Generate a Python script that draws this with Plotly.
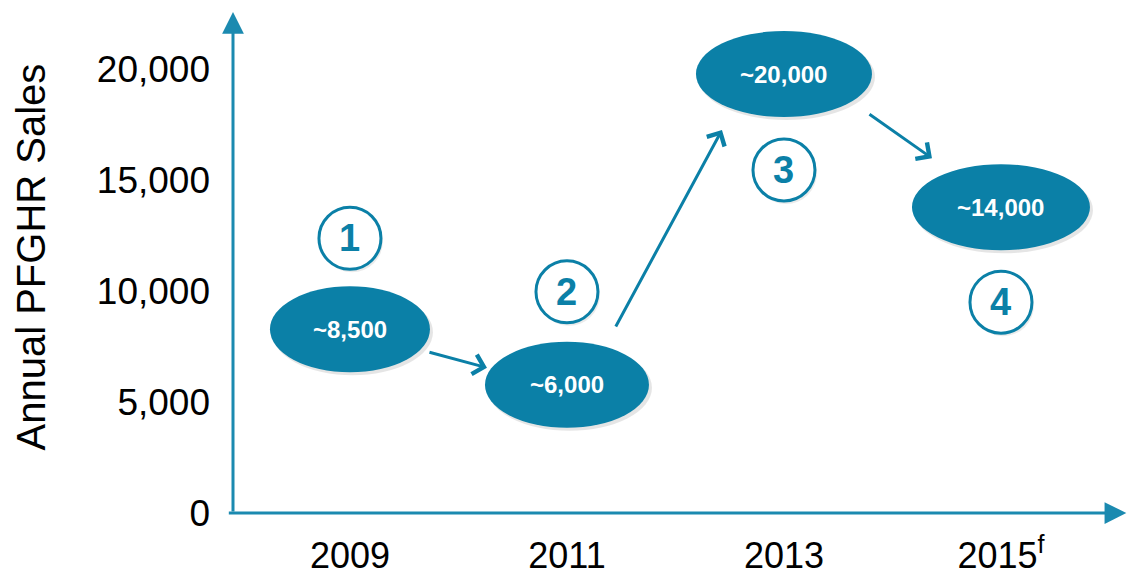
import plotly.graph_objects as go

# ---- data ----
years = ["2009", "2011", "2013", "2015<sup>f</sup>"]
sales = [8500, 6000, 20000, 14000]
bubble_text = ["~8,500", "~6,000", "~20,000", "~14,000"]
step_labels = ["1", "2", "3", "4"]
y_ticks = [0, 5000, 10000, 15000, 20000]

# ---- style ----
TEAL = "#0B80A7"
LINE = "#1B8AB0"
FONT = "Liberation Sans, Arial, sans-serif"
ell_w = [160, 164, 176, 178]
ell_h = 86
step_dy = [86, 88, -101, -100]        # pixel offset of numbered circle from bubble
circle_r = 31
arrow_specs = [  # (target index, xshift, yshift, ax, ay)
    (1, -80, 12, -59, -16),
    (2, -62, -61, -107, 198),
    (3, -69, 44, -64, -45),
]

xs = list(range(len(years)))
fig = go.Figure()
fig.add_trace(go.Scatter(x=xs, y=sales, mode="markers",
                         marker=dict(size=1, opacity=0), hoverinfo="skip",
                         showlegend=False))

shapes = []
annotations = []
for i, v in enumerate(sales):
    w = ell_w[i]
    # shadow
    shapes.append(dict(type="circle", xref="x", yref="y", layer="below",
                       xsizemode="pixel", ysizemode="pixel", xanchor=i, yanchor=v,
                       x0=-w / 2 + 2, x1=w / 2 + 3, y0=-ell_h / 2 - 8, y1=ell_h / 2 - 8,
                       fillcolor="rgba(0,0,0,0.10)", line=dict(width=0)))
    shapes.append(dict(type="circle", xref="x", yref="y", layer="below",
                       xsizemode="pixel", ysizemode="pixel", xanchor=i, yanchor=v,
                       x0=-w / 2, x1=w / 2, y0=-ell_h / 2 - 5, y1=ell_h / 2 - 5,
                       fillcolor=TEAL, line=dict(width=0)))
    annotations.append(dict(x=i, y=v, xref="x", yref="y", text="<b>%s</b>" % bubble_text[i],
                            showarrow=False, yshift=-5,
                            font=dict(family=FONT, size=24, color="white")))
    dy = step_dy[i]
    shapes.append(dict(type="circle", xref="x", yref="y", layer="below",
                       xsizemode="pixel", ysizemode="pixel", xanchor=i, yanchor=v,
                       x0=-circle_r + 2, x1=circle_r + 2, y0=dy - circle_r - 3, y1=dy + circle_r - 3,
                       fillcolor="rgba(0,0,0,0.08)", line=dict(width=0)))
    shapes.append(dict(type="circle", xref="x", yref="y", layer="below",
                       xsizemode="pixel", ysizemode="pixel", xanchor=i, yanchor=v,
                       x0=-circle_r, x1=circle_r, y0=dy - circle_r, y1=dy + circle_r,
                       fillcolor="white", line=dict(color=TEAL, width=3)))
    annotations.append(dict(x=i, y=v, xref="x", yref="y", text="<b>%s</b>" % step_labels[i],
                            showarrow=False, yshift=dy,
                            font=dict(family=FONT, size=38, color=TEAL)))

for (t, xsh, ysh, ax, ay) in arrow_specs:
    annotations.append(dict(x=t, y=sales[t], xref="x", yref="y", text="",
                            showarrow=True, xshift=xsh, yshift=ysh, ax=ax, ay=ay,
                            arrowhead=4, arrowsize=1.3, arrowwidth=3, arrowcolor=TEAL))

# axis arrows
annotations.append(dict(x=0, y=1, xref="paper", yref="paper", text="", showarrow=True,
                        ax=0, ay=501, arrowhead=2, arrowsize=1.45, arrowwidth=3, arrowcolor=LINE))
annotations.append(dict(x=0.997, y=0, xref="paper", yref="paper", text="", showarrow=True,
                        ax=-899, ay=0, arrowhead=2, arrowsize=1.45, arrowwidth=3, arrowcolor=LINE))

# y title
annotations.append(dict(x=0, y=0.5, xref="paper", yref="paper", text="Annual PFGHR Sales",
                        showarrow=False, textangle=-90, xanchor="center", yanchor="middle",
                        xshift=-203, yshift=5,
                        font=dict(family=FONT, size=40, color="black")))

fig.update_layout(
    width=1129, height=576,
    margin=dict(l=233, r=0, t=12, b=63),
    paper_bgcolor="white", plot_bgcolor="white",
    showlegend=False,
    shapes=shapes, annotations=annotations,
    xaxis=dict(range=[-0.539, 3.59], tickvals=xs, ticktext=years, showgrid=False,
               zeroline=False, showline=False, ticks="", ticklabelstandoff=18,
               automargin=False,
               tickfont=dict(family=FONT, size=36, color="black")),
    yaxis=dict(range=[0, 22568], tickvals=y_ticks, tickformat=",d", showgrid=False,
               zeroline=False, showline=False, ticks="", ticklabelstandoff=22,
               automargin=False,
               tickfont=dict(family=FONT, size=37, color="black")),
)

fig.write_html("out.html", config={"displayModeBar": False},
               post_script="document.body.style.margin='0';")
